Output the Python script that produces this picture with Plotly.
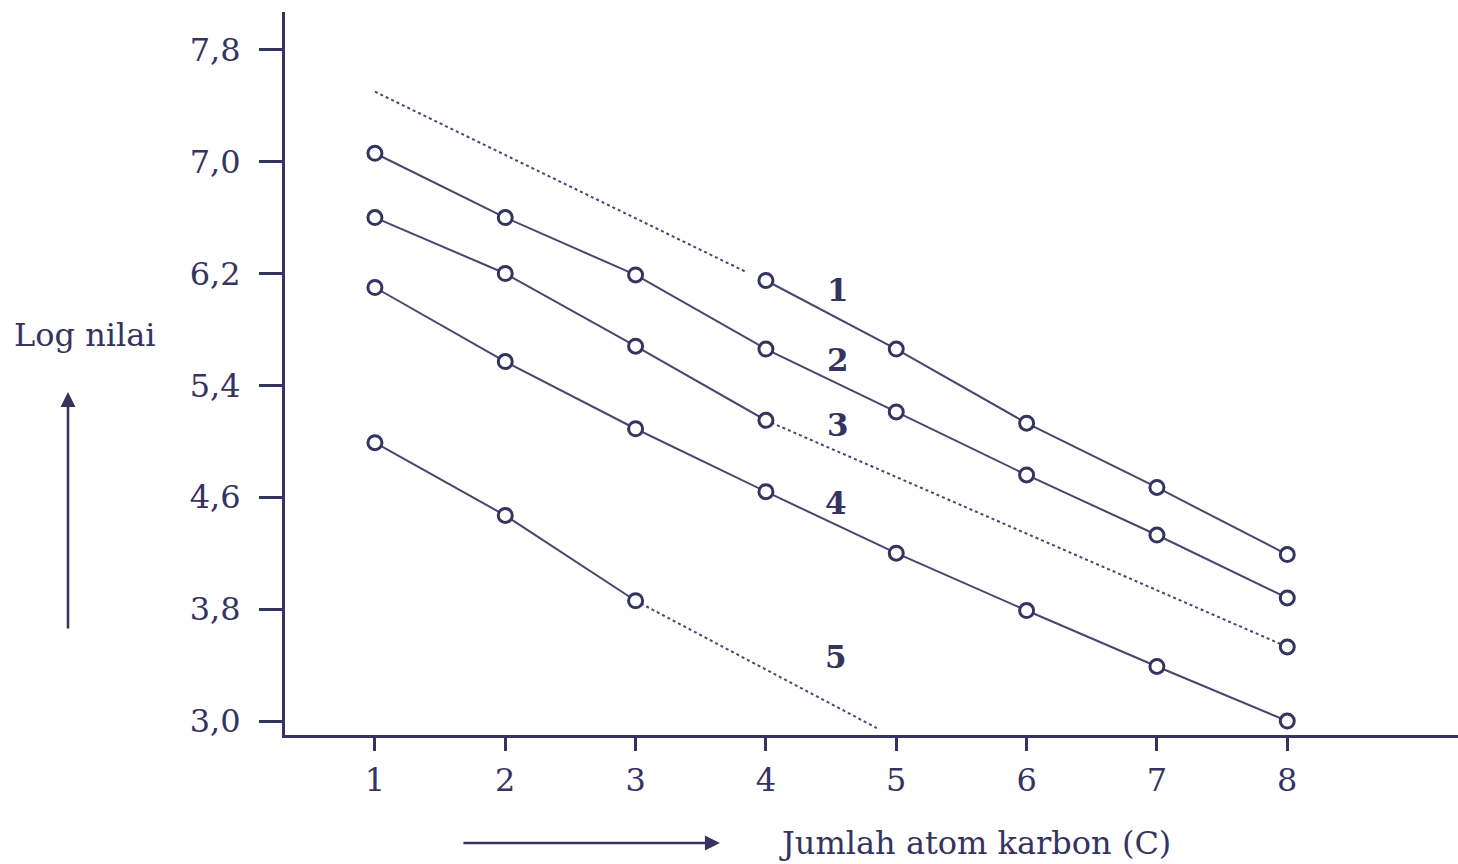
import plotly.graph_objects as go

carbon = [1, 2, 3, 4, 5, 6, 7, 8]

# Series values (Log nilai)
s1_x = [4, 5, 6, 7, 8]
s1_y = [6.15, 5.66, 5.13, 4.67, 4.19]
s1_ext_x = [1, 3.85]
s1_ext_y = [7.50, 6.21]

s2_x = [1, 2, 3, 4, 5, 6, 7, 8]
s2_y = [7.06, 6.60, 6.19, 5.66, 5.21, 4.76, 4.33, 3.88]

s3_x = [1, 2, 3, 4]
s3_y = [6.60, 6.20, 5.68, 5.15]
s3_ext_x = [4, 8]
s3_ext_y = [5.15, 3.53]
s3_end_x = [8]
s3_end_y = [3.53]

s4_x = [1, 2, 3, 4, 5, 6, 7, 8]
s4_y = [6.10, 5.57, 5.09, 4.64, 4.20, 3.79, 3.39, 3.00]

s5_x = [1, 2, 3]
s5_y = [4.99, 4.47, 3.86]
s5_ext_x = [3, 4.85]
s5_ext_y = [3.86, 2.95]

series_labels = ["1", "2", "3", "4", "5"]
label_x = [4.55, 4.55, 4.55, 4.54, 4.54]
label_y = [6.08, 5.58, 5.12, 4.56, 3.46]

y_ticks = [3.0, 3.8, 4.6, 5.4, 6.2, 7.0, 7.8]
y_ticktext = ["3,0", "3,8", "4,6", "5,4", "6,2", "7,0", "7,8"]

INK = "#35335f"
LINE = "#484670"
FONT = "DejaVu Serif"

fig = go.Figure()

def solid(x, y):
    fig.add_trace(go.Scatter(
        x=x, y=y, mode="lines+markers",
        line=dict(color=LINE, width=2),
        marker=dict(symbol="circle", size=14, color="white",
                    line=dict(color=INK, width=3)),
        showlegend=False, hoverinfo="skip"))

def dotted(x, y):
    fig.add_trace(go.Scatter(
        x=x, y=y, mode="lines",
        line=dict(color=LINE, width=2, dash="dot"),
        showlegend=False, hoverinfo="skip"))

dotted(s1_ext_x, s1_ext_y)
dotted(s3_ext_x, s3_ext_y)
dotted(s5_ext_x, s5_ext_y)
solid(s1_x, s1_y)
solid(s2_x, s2_y)
solid(s3_x, s3_y)
fig.add_trace(go.Scatter(
    x=s3_end_x, y=s3_end_y, mode="markers",
    marker=dict(symbol="circle", size=14, color="white",
                line=dict(color=INK, width=3)),
    showlegend=False, hoverinfo="skip"))
solid(s4_x, s4_y)
solid(s5_x, s5_y)

for t, lx, ly in zip(series_labels, label_x, label_y):
    fig.add_annotation(x=lx, y=ly, text="<b>" + t + "</b>", showarrow=False,
                       font=dict(family=FONT, size=31, color=INK))

# Axis titles and arrows
fig.add_annotation(xref="paper", yref="paper", x=-0.1705, y=0.553,
                   xanchor="center", yanchor="middle",
                   text="Log nilai", showarrow=False,
                   font=dict(family=FONT, size=32, color=INK))
fig.add_annotation(xref="paper", yref="paper", x=-0.185, y=0.4744,
                   text="", showarrow=True, ax=0, ay=238,
                   arrowhead=2, arrowsize=1.2, arrowwidth=2.5, arrowcolor=INK)
fig.add_annotation(xref="paper", yref="paper", x=0.588, y=-0.1494,
                   xanchor="center", yanchor="middle",
                   text="Jumlah atom karbon (C)", showarrow=False,
                   font=dict(family=FONT, size=32, color=INK))
fig.add_annotation(xref="paper", yref="paper", x=0.3708, y=-0.1494,
                   text="", showarrow=True, ax=-258, ay=0,
                   arrowhead=2, arrowsize=1.2, arrowwidth=2.5, arrowcolor=INK)

fig.update_layout(
    width=1458, height=864,
    margin=dict(l=285, r=0, t=12, b=129),
    paper_bgcolor="white", plot_bgcolor="white",
    font=dict(family=FONT, size=32, color=INK),
    xaxis=dict(range=[0.31, 9.31], tickvals=carbon,
               ticktext=[str(c) for c in carbon],
               showgrid=False, zeroline=False,
               showline=True, linecolor=INK, linewidth=3,
               ticks="outside", ticklen=13, tickwidth=3, tickcolor=INK,
               ticklabelstandoff=2,
               tickfont=dict(family=FONT, size=32, color=INK)),
    yaxis=dict(range=[2.90, 8.07], tickvals=y_ticks, ticktext=y_ticktext,
               showgrid=False, zeroline=False,
               showline=True, linecolor=INK, linewidth=3,
               ticks="outside", ticklen=23, tickwidth=2.5, tickcolor=INK,
               ticklabelstandoff=12,
               tickfont=dict(family=FONT, size=32, color=INK)),
)

fig.write_html(
    "out.html",
    config={"displayModeBar": False},
    post_script="document.body.style.margin='0px';document.body.style.overflow='hidden';",
)
